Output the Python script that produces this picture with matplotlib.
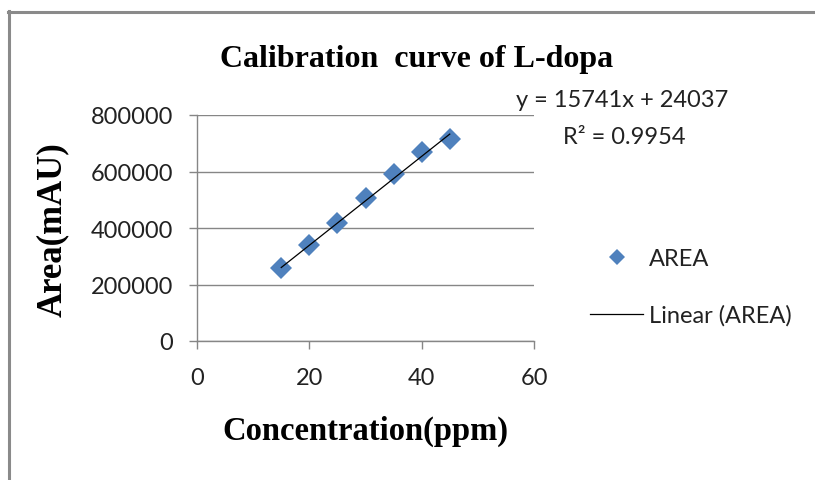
import matplotlib
matplotlib.use("Agg")
import matplotlib.pyplot as plt
from matplotlib.lines import Line2D
import numpy as np

# ---- data ----
concentration = [15, 20, 25, 30, 35, 40, 45]
area = [258500, 338800, 418500, 507300, 590200, 669600, 714000]
slope = 15741
intercept = 24037
r_squared = 0.9954
x_ticks = [0, 20, 40, 60]
y_ticks = [0, 200000, 400000, 600000, 800000]
title = "Calibration  curve of L-dopa"
x_label = "Concentration(ppm)"
y_label = "Area(mAU)"
series_name = "AREA"
trend_name = "Linear (AREA)"

W, H = 815, 481
fig = plt.figure(figsize=(W / 100, H / 100), dpi=100)
fig.patch.set_facecolor("white")

def fx(px):
    return px / W

def fy(py):
    return 1 - py / H

# outer chart border (gray)
border_col = "#8a8a8a"
fig.add_artist(Line2D([fx(9), fx(9)], [fy(12), -0.01], transform=fig.transFigure,
                      color=border_col, lw=2.2))
fig.add_artist(Line2D([fx(8), 1.01], [fy(13), fy(13)], transform=fig.transFigure,
                      color=border_col, lw=2.2))

left, right, top, bottom = 197, 534, 116, 342
ax = fig.add_axes([fx(left), fy(bottom), fx(right - left), (bottom - top) / H])

sans = ["Lato", "DejaVu Sans"]
serif = ["Liberation Serif", "DejaVu Serif"]
axis_col = "#868686"

ax.plot(concentration, area, linestyle="none", marker="D", markersize=11.5,
        color="#4F81BD", markeredgewidth=0, label=series_name, zorder=3)
xl = np.array([min(concentration), max(concentration)])
ax.plot(xl, slope * xl + intercept, color="black", lw=0.9, label=trend_name, zorder=4)

ax.set_xlim(0, 60)
ax.set_ylim(0, 800000)
ax.set_xticks(x_ticks)
ax.set_yticks(y_ticks)
ax.set_xticklabels([str(t) for t in x_ticks], fontfamily=sans, fontsize=17, color="#222222")
ax.set_yticklabels([str(t) for t in y_ticks], fontfamily=sans, fontsize=17, color="#222222")
ax.tick_params(axis="both", direction="out", length=6, width=1, color=axis_col)
ax.tick_params(axis="y", pad=11)
ax.tick_params(axis="x", pad=13)

for s in ["top", "right"]:
    ax.spines[s].set_visible(False)
for s in ["left", "bottom"]:
    ax.spines[s].set_color(axis_col)
    ax.spines[s].set_linewidth(1)
ax.yaxis.grid(True, color=axis_col, lw=1)
ax.set_axisbelow(True)

# titles
fig.text(fx(417), fy(60), title, ha="center", va="center", fontfamily=serif,
         fontweight="bold", fontsize=23)
fig.text(fx(365), fy(431), x_label, ha="center", va="center", fontfamily=serif,
         fontweight="bold", fontsize=23.5)
fig.text(fx(52), fy(230), y_label, ha="center", va="center", rotation=90,
         fontfamily=serif, fontweight="bold", fontsize=25)

# trendline equation
fig.text(fx(622), fy(101), f"y = {slope}x + {intercept}", ha="center", va="center",
         fontfamily=sans, fontsize=17, color="#222222")
fig.text(fx(624), fy(138), f"R\u00b2 = {r_squared}", ha="center", va="center",
         fontfamily=sans, fontsize=17, color="#222222")

# legend
fs = 17
leg = ax.legend(loc="upper left", bbox_to_anchor=(fx(590), fy(249)),
                bbox_transform=fig.transFigure, frameon=False,
                prop={"family": sans, "size": fs}, handlelength=2.25,
                handletextpad=0.25, labelspacing=1.5, borderpad=0,
                borderaxespad=0, markerscale=0.72)
for t in leg.get_texts():
    t.set_color("#222222")

fig.savefig("out.png", dpi=100)
